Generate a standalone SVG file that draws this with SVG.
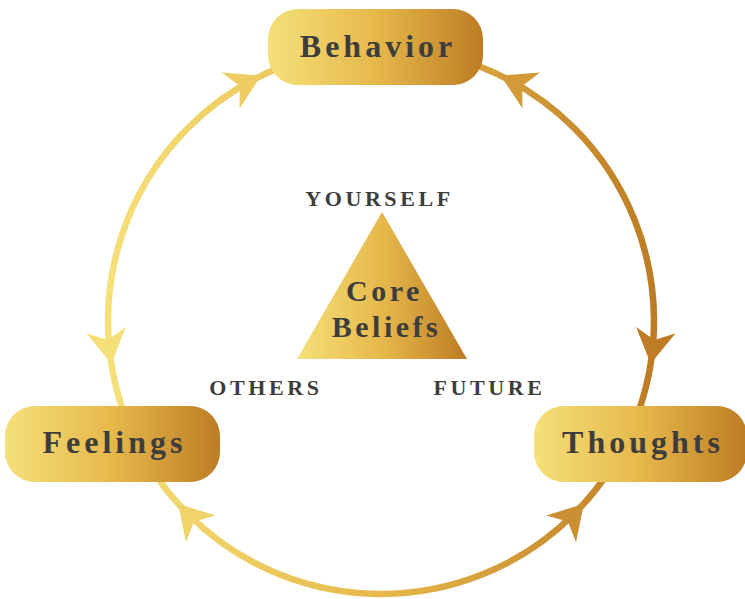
<svg xmlns="http://www.w3.org/2000/svg" xmlns:xlink="http://www.w3.org/1999/xlink" width="745" height="599" viewBox="0 0 745 599">
  <defs>
    <!-- gold fill used by the nodes and the triangle -->
    <linearGradient id="gold" x1="0" y1="0" x2="1" y2="0">
      <stop offset="0" stop-color="#f5e07a"/>
      <stop offset="0.5" stop-color="#e6b84b"/>
      <stop offset="1" stop-color="#bd7c24"/>
    </linearGradient>
    <!-- the same gold laid across the whole ring -->
    <linearGradient id="ringGold" gradientUnits="userSpaceOnUse" x1="108" y1="0" x2="654" y2="0">
      <stop offset="0" stop-color="#f5e07a"/>
      <stop offset="0.5" stop-color="#e6b84b"/>
      <stop offset="1" stop-color="#bd7c24"/>
    </linearGradient>
    <!-- barbed arrowhead, tip at the origin, pointing along +x -->
    <path id="arrowhead" d="M0 0 L-34 -20 L-24 0 L-34 20 Z"/>
    <style>
      .node { fill: url(#gold); }
      .ring { fill: none; stroke: url(#ringGold); stroke-width: 6.5; }
      .label { font-family: "Liberation Serif", "Times New Roman", serif; font-weight: bold; fill: #3d3d3d; text-anchor: middle; }
      .big { font-size: 32px; letter-spacing: 4px; }
      .core { font-size: 30px; letter-spacing: 3.5px; }
      .small { font-size: 22px; letter-spacing: 3.6px; }
    </style>
  </defs>

  <!-- cycle ring and its arrowheads -->
  <g id="connectors">
    <circle class="ring" cx="381" cy="321" r="273"/>
    <use xlink:href="#arrowhead" href="#arrowhead" fill="#eecc62" transform="translate(261.3 75.6) rotate(334)"/>
    <use xlink:href="#arrowhead" href="#arrowhead" fill="#d29b38" transform="translate(500.7 75.6) rotate(206)"/>
    <use xlink:href="#arrowhead" href="#arrowhead" fill="#be7d25" transform="translate(650.6 363.7) rotate(99)"/>
    <use xlink:href="#arrowhead" href="#arrowhead" fill="#ca8f33" transform="translate(583.9 503.7) rotate(-48)"/>
    <use xlink:href="#arrowhead" href="#arrowhead" fill="#f0d36b" transform="translate(178.1 503.7) rotate(228)"/>
    <use xlink:href="#arrowhead" href="#arrowhead" fill="#f5df79" transform="translate(111.4 363.7) rotate(81)"/>
  </g>

  <g id="behavior">
    <rect class="node" x="268" y="9" width="215" height="76" rx="30"/>
    <text class="label big" x="378" y="57">Behavior</text>
  </g>

  <g id="thoughts">
    <rect class="node" x="534" y="406" width="213" height="76" rx="30"/>
    <text class="label big" x="643" y="453">Thoughts</text>
  </g>

  <g id="feelings">
    <rect class="node" x="5" y="406" width="215" height="76" rx="30"/>
    <text class="label big" x="114.5" y="453">Feelings</text>
  </g>

  <g id="core-beliefs">
    <polygon class="node" points="382,212 297,359 467,359"/>
    <text class="label core" x="384.5" y="301">Core</text>
    <text class="label core" x="386.5" y="337">Beliefs</text>
    <text class="label small" x="379.5" y="206">YOURSELF</text>
    <text class="label small" x="266" y="395">OTHERS</text>
    <text class="label small" x="489.5" y="395">FUTURE</text>
  </g>
</svg>
